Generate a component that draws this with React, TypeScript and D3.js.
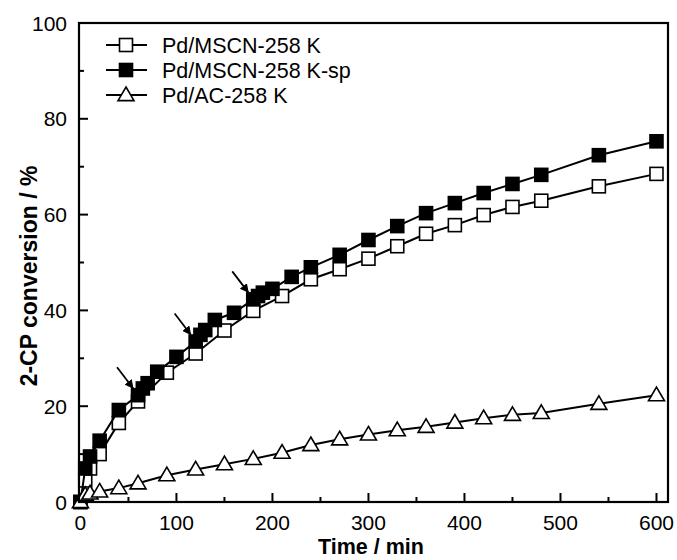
import React from "react";
import * as d3 from "d3";

const timeOpen = [0, 5, 10, 20, 40, 60, 90, 120, 150, 180, 210, 240, 270, 300, 330, 360, 390, 420, 450, 480, 540, 600];
const convOpen = [0, 4.5, 7, 10, 16.5, 21, 27, 31, 35.8, 39.9, 43, 46.5, 48.6, 50.8, 53.4, 56, 57.8, 59.9, 61.6, 62.9, 65.9, 68.5];

const timeFilled = [0, 5, 10, 20, 40, 60, 65, 70, 80, 100, 120, 125, 130, 140, 160, 180, 185, 190, 200, 220, 240, 270, 300, 330, 360, 390, 420, 450, 480, 540, 600];
const convFilled = [0, 7, 9.5, 12.8, 19.2, 22.3, 23.7, 24.8, 27.2, 30.3, 33.5, 34.9, 35.9, 38, 39.5, 42.3, 43, 43.7, 44.5, 47, 49, 51.6, 54.7, 57.6, 60.3, 62.4, 64.5, 66.4, 68.3, 72.4, 75.3];

const timeTri = [0, 5, 10, 20, 40, 60, 90, 120, 150, 180, 210, 240, 270, 300, 330, 360, 390, 420, 450, 480, 540, 600];
const convTri = [0, 1.5, 1.8, 2.2, 2.9, 3.9, 5.6, 6.8, 7.9, 9.0, 10.3, 11.9, 13.1, 14.1, 15.0, 15.7, 16.6, 17.5, 18.2, 18.6, 20.5, 22.3];

const seriesNames = ["Pd/MSCN-258 K", "Pd/MSCN-258 K-sp", "Pd/AC-258 K"];
const arrowTimes = [60, 120, 180];
const xTicks = [0, 100, 200, 300, 400, 500, 600];
const yTicks = [0, 20, 40, 60, 80, 100];

const W = 677, H = 560;
const L = 79, R = 668, T = 23, B = 502;
const FONT = "Arial, 'Liberation Sans', Helvetica, sans-serif";

function Marker({ kind, x, y }: { kind: string; x: number; y: number }) {
  if (kind === "open") return <rect x={x - 6.5} y={y - 6.5} width={13} height={13} fill="#fff" stroke="#000" strokeWidth={1.6} />;
  if (kind === "filled") return <rect x={x - 6.5} y={y - 6.5} width={13} height={13} fill="#000" stroke="#000" strokeWidth={1.6} />;
  const s = 8;
  return <path d={`M${x},${y - s} L${x + s},${y + s * 0.7} L${x - s},${y + s * 0.7} Z`} fill="#fff" stroke="#000" strokeWidth={1.6} />;
}

export default function App() {
  const x = d3.scaleLinear().domain([-1.5, 612]).range([L, R]);
  const y = d3.scaleLinear().domain([0, 100]).range([B, T]);
  const line = d3.line<[number, number]>().x(d => x(d[0])).y(d => y(d[1]));

  const series = [
    { kind: "open", pts: timeOpen.map((t, i) => [t, convOpen[i]] as [number, number]) },
    { kind: "filled", pts: timeFilled.map((t, i) => [t, convFilled[i]] as [number, number]) },
    { kind: "tri", pts: timeTri.map((t, i) => [t, convTri[i]] as [number, number]) },
  ];

  const xMinor = d3.range(0, 601, 50);
  const yMinor = d3.range(0, 101, 10);

  return (
    <svg width={W} height={H} style={{ position: "absolute", left: 0, top: 0, background: "#fff" }} fontFamily={FONT}>
      <defs>
        <marker id="ah" viewBox="0 0 10 10" refX="9" refY="5" markerWidth="5" markerHeight="5" orient="auto">
          <path d="M0,0 L10,5 L0,10 Z" fill="#000" />
        </marker>
      </defs>
      {xMinor.map(v => (
        <line key={"xt" + v} x1={x(v)} x2={x(v)} y1={B} y2={B - (v % 100 === 0 ? 9 : 5)} stroke="#000" strokeWidth={2} />
      ))}
      {yMinor.map(v => (
        <line key={"yt" + v} x1={L} x2={L + (v % 20 === 0 ? 9 : 5)} y1={y(v)} y2={y(v)} stroke="#000" strokeWidth={2} />
      ))}
      {series.map((s, i) => (
        <g key={i}>
          <path d={line(s.pts) || ""} fill="none" stroke="#000" strokeWidth={2} />
          {s.pts.map((p, j) => <Marker key={j} kind={s.kind} x={x(p[0])} y={y(p[1])} />)}
        </g>
      ))}
      {arrowTimes.map(t => {
        const v = convFilled[timeFilled.indexOf(t)];
        const tx = x(t) - 5, ty = y(v) - 7;
        return <line key={"a" + t} x1={tx - 16} y1={ty - 21} x2={tx} y2={ty} stroke="#000" strokeWidth={1.8} markerEnd="url(#ah)" />;
      })}
      <rect x={L} y={T} width={R - L} height={B - T} fill="none" stroke="#000" strokeWidth={2.2} />
      {xTicks.map(v => (
        <text key={"xl" + v} x={x(v)} y={B + 28} textAnchor="middle" fontSize={21}>{v}</text>
      ))}
      {yTicks.map(v => (
        <text key={"yl" + v} x={L - 12} y={y(v) + 7.5} textAnchor="end" fontSize={21}>{v}</text>
      ))}
      <text x={371} y={554} textAnchor="middle" fontSize={21.5} fontWeight="bold">Time / min</text>
      <text transform={`translate(37,276) rotate(-90)`} textAnchor="middle" fontSize={23} fontWeight="bold">2-CP conversion / %</text>
      {seriesNames.map((n, i) => {
        const ly = 45 + i * 25;
        const kind = series[i].kind;
        return (
          <g key={"lg" + i}>
            <line x1={106} x2={147} y1={ly} y2={ly} stroke="#000" strokeWidth={2} />
            <Marker kind={kind} x={126} y={ly} />
            <text x={162} y={ly + 7.5} fontSize={21.5}>{n}</text>
          </g>
        );
      })}
    </svg>
  );
}
